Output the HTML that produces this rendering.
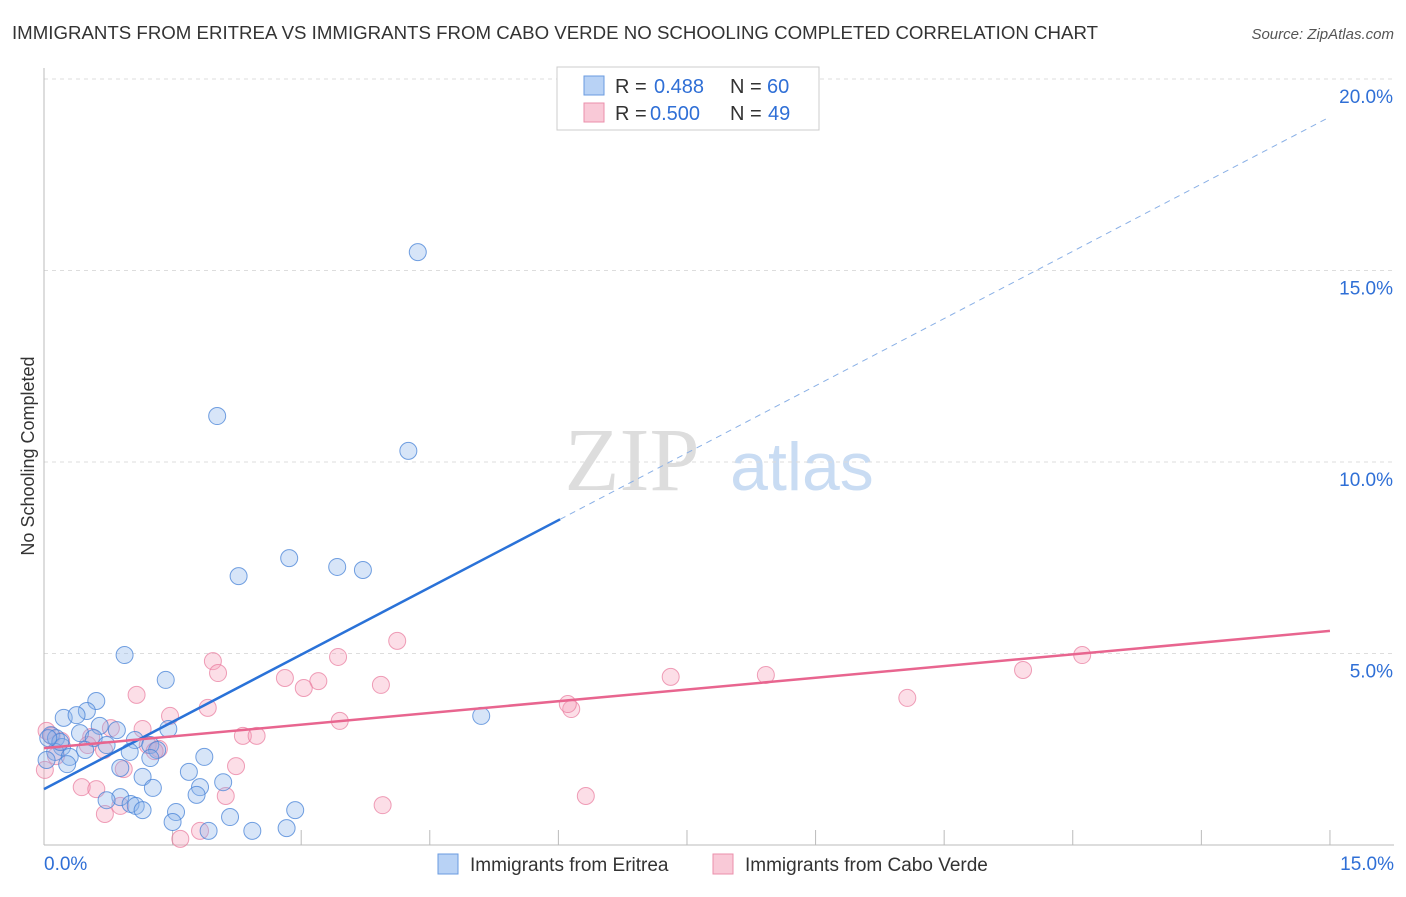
<!DOCTYPE html>
<html><head><meta charset="utf-8"><style>
body{margin:0;background:#fff;font-family:"Liberation Sans",sans-serif}
svg text{font-family:"Liberation Sans",sans-serif}
</style></head><body>
<svg id="chart" width="1406" height="892" xmlns="http://www.w3.org/2000/svg">
<text x="12" y="39" font-size="18" fill="#333" textLength="1086" lengthAdjust="spacingAndGlyphs">IMMIGRANTS FROM ERITREA VS IMMIGRANTS FROM CABO VERDE NO SCHOOLING COMPLETED CORRELATION CHART</text>
<text x="1394" y="39" font-size="15" fill="#555" text-anchor="end" font-style="italic">Source: ZipAtlas.com</text>
<text x="34" y="456" font-size="18" fill="#333" text-anchor="middle" transform="rotate(-90 34 456)">No Schooling Completed</text>
<g><text x="632" y="490" font-size="90" fill="#ddd" text-anchor="middle" style="font-family:'Liberation Serif'">ZIP</text><text x="802" y="490" font-size="68" fill="#c9dcf3" text-anchor="middle">atlas</text></g>
<g id="grid"></g><g id="axes"></g><g id="pts"></g><g id="lines"></g>
<g>
<rect x="557" y="67" width="262" height="63" fill="#fff" stroke="#ccc"/>
<rect x="584" y="76" width="20" height="19" fill="#b8d2f5" stroke="#6a9be0"/>
<rect x="584" y="103" width="20" height="19" fill="#f9c9d7" stroke="#eb8fab"/>
<text x="615" y="93" font-size="20" fill="#333">R =</text><text x="654" y="93" font-size="20" fill="#2f6fd6">0.488</text>
<text x="730" y="93" font-size="20" fill="#333">N =</text><text x="767" y="93" font-size="20" fill="#2f6fd6">60</text>
<text x="615" y="120" font-size="20" fill="#333">R =</text><text x="650" y="120" font-size="20" fill="#2f6fd6">0.500</text>
<text x="730" y="120" font-size="20" fill="#333">N =</text><text x="768" y="120" font-size="20" fill="#2f6fd6">49</text>
</g>
<g>
<rect x="438" y="854" width="20" height="20" fill="#b8d2f5" stroke="#6a9be0"/>
<text x="470" y="871" font-size="19" fill="#333">Immigrants from Eritrea</text>
<rect x="713" y="854" width="20" height="20" fill="#f9c9d7" stroke="#eb8fab"/>
<text x="745" y="871" font-size="19" fill="#333">Immigrants from Cabo Verde</text>
</g>
</svg>
<script>
const blueX=[4.36,2.02,4.25,2.27,2.86,3.42,3.72,0.94,1.42,0.61,0.50,0.23,0.38,0.65,0.85,0.42,0.08,0.14,0.58,0.73,1.06,1.24,1.32,1.45,1.87,1.00,1.24,0.21,0.13,0.30,0.27,0.48,0.89,1.15,1.69,2.09,1.82,1.78,1.27,0.89,0.73,1.01,1.07,1.15,1.54,1.50,2.93,2.17,1.92,2.43,2.83,5.10,0.03,0.19,0.05];
const blueY=[15.48,11.20,10.29,7.02,7.49,7.26,7.18,4.96,4.31,3.76,3.50,3.32,3.39,3.11,3.00,2.92,2.87,2.79,2.79,2.61,2.74,2.61,2.48,3.03,2.30,2.43,2.27,2.56,2.43,2.30,2.11,2.48,2.01,1.78,1.91,1.64,1.51,1.31,1.49,1.25,1.17,1.07,1.02,0.91,0.86,0.60,0.91,0.73,0.37,0.37,0.44,3.37,2.22,2.69,2.79];
const pinkX=[1.97,2.03,4.12,3.43,3.20,3.03,2.81,3.93,1.08,1.91,1.47,3.45,0.78,1.15,2.32,2.48,0.55,1.21,1.34,1.29,0.03,0.09,0.20,0.51,0.70,0.01,0.14,0.93,2.24,0.44,0.61,0.89,2.12,0.71,1.82,1.59,3.95,6.32,6.15,6.11,7.31,8.42,10.07,11.42,12.11];
const pinkY=[4.80,4.49,5.33,4.91,4.28,4.10,4.36,4.18,3.92,3.58,3.37,3.24,3.05,3.03,2.85,2.85,2.82,2.61,2.51,2.45,2.98,2.85,2.72,2.61,2.48,1.96,2.32,1.98,2.06,1.51,1.46,1.02,1.28,0.81,0.37,0.16,1.04,1.28,3.55,3.68,4.39,4.44,3.84,4.57,4.96];
const blueTrend=[1.46,19.01];
const pinkTrend=[2.53,5.59];
const yTicks=[5,10,15,20];
const xTickVals=[0,1.5,3,4.5,6,7.5,9,10.5,12,13.5,15];
const NS="http://www.w3.org/2000/svg";
const sx=v=>44+v*85.73, sy=v=>845-v*38.3;
function mk(p,t,a){const e=document.createElementNS(NS,t);for(const k in a)e.setAttribute(k,a[k]);p.appendChild(e);return e;}
const grid=document.getElementById('grid'),axes=document.getElementById('axes'),pts=document.getElementById('pts'),lines=document.getElementById('lines');
yTicks.forEach(v=>{const l=mk(grid,'line',{x1:44,x2:1394,y1:sy(v),y2:sy(v),stroke:'#ddd','stroke-dasharray':'4,4'});


const t=mk(axes,'text',{x:1393,y:sy(v)+24,'font-size':19,fill:'#2f6fd6','text-anchor':'end'});t.textContent=v.toFixed(1)+'%';

});
const ax=mk(axes,'line',{x1:44,x2:44,y1:68,y2:845,stroke:'#bbb'});


const bx=mk(axes,'line',{x1:44,x2:1394,y1:845,y2:845,stroke:'#bbb'});


xTickVals.forEach(v=>{const t=mk(axes,'line',{x1:sx(v),x2:sx(v),y1:830,y2:845,stroke:'#bbb'});

});
[[0,'start'],[15,'end']].forEach(([v,a])=>{const t=mk(axes,'text',{x:v===0?44:1394,y:870,'font-size':19,fill:'#2f6fd6','text-anchor':a});t.textContent=v.toFixed(1)+'%';

});
pinkX.forEach((x,i)=>{const c=mk(pts,'circle',{cx:sx(x),cy:sy(pinkY[i]),r:8.5,fill:'rgba(245,160,185,0.35)',stroke:'rgba(232,120,155,0.7)','stroke-width':1});

});
blueX.forEach((x,i)=>{const c=mk(pts,'circle',{cx:sx(x),cy:sy(blueY[i]),r:8.5,fill:'rgba(140,180,235,0.35)',stroke:'rgba(70,130,215,0.75)','stroke-width':1});

});
const bAt=x=>blueTrend[0]+(blueTrend[1]-blueTrend[0])*x/15;
const l1=mk(lines,'line',{x1:sx(0),y1:sy(bAt(0)),x2:sx(6.02),y2:sy(bAt(6.02)),stroke:'#2a72d8','stroke-width':2.5});


const l2=mk(lines,'line',{x1:sx(6.02),y1:sy(bAt(6.02)),x2:sx(15),y2:sy(bAt(15)),stroke:'#8ab0e6','stroke-width':1,'stroke-dasharray':'6,5'});


const l3=mk(lines,'line',{x1:sx(0),y1:sy(pinkTrend[0]),x2:sx(15),y2:sy(pinkTrend[1]),stroke:'#e8658f','stroke-width':2.5});


</script>
</body></html>
